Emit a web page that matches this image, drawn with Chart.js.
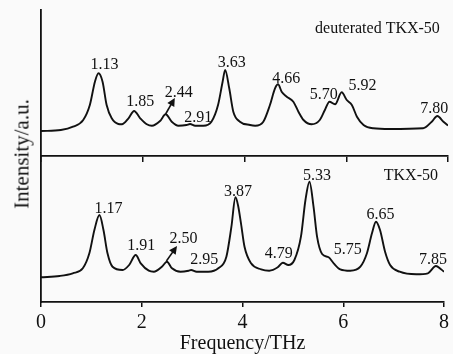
<!DOCTYPE html>
<html>
<head>
<meta charset="utf-8">
<script src="https://cdn.jsdelivr.net/npm/chart.js@4.4.0/dist/chart.umd.min.js"></script>
<style>
html, body { margin: 0; padding: 0; background: #fafafa; }
#wrap { position: relative; width: 453px; height: 354px; overflow: hidden; }
#cTop { position: absolute; left: 0; top: 0; }
#cBottom { position: absolute; left: 0; top: 150px; }
#ylab {
  position: absolute; left: 22px; top: 154px;
  transform: translate(-50%, -50%) rotate(-90deg);
  font: 21px "Liberation Serif", serif; color: #111; white-space: nowrap;
}
</style>
</head>
<body>
<div id="wrap">
  <canvas id="cTop" width="453" height="170"></canvas>
  <canvas id="cBottom" width="453" height="204"></canvas>
  <div id="ylab">Intensity/a.u.</div>
</div>
<script>
// spectrum of deuterated TKX-50 (frequency in THz, intensity a.u.)
const freqDeut = [0, 0.39, 0.63, 0.83, 0.96, 1.06, 1.13, 1.21, 1.29, 1.39, 1.52, 1.59, 1.72, 1.83, 1.95, 2.08, 2.18, 2.34, 2.45, 2.57, 2.70, 2.86, 2.93, 3.03, 3.19, 3.35, 3.48, 3.57, 3.62, 3.70, 3.78, 3.91, 4.11,
  4.21, 4.37, 4.50, 4.60, 4.66, 4.73, 4.83, 4.96, 5.06, 5.16, 5.32, 5.48, 5.58, 5.67, 5.78, 5.91, 6.01, 6.11, 6.21, 6.34, 6.53, 6.86, 7.51, 7.68, 7.79, 7.91, 8.0]
const intDeut = [25, 26, 29.3, 36, 51, 74.3, 82.7, 74.3, 51, 37.7, 32, 31.7, 37.7, 45, 37.7, 31.7, 30.3, 35, 41.7, 34.3, 30.3, 31, 32, 30.3, 30.3, 34.3, 51, 74.3, 86, 67.7, 44.3, 34.3, 31,
  30.3, 34.3, 51, 67.7, 71.7, 64.3, 59.3, 54.3, 44.3, 36, 31.7, 36, 46, 54.3, 51.7, 63.7, 56, 51, 39.3, 31, 27.7, 27, 27.7, 34.3, 40, 34.3, 30.5]

// spectrum of TKX-50
const freqTkx = [0, 0.37, 0.63, 0.83, 0.96, 1.06, 1.16, 1.24, 1.32, 1.42, 1.62, 1.75, 1.88, 1.98, 2.14, 2.24, 2.40, 2.50, 2.60, 2.77, 2.93, 2.98, 3.09, 3.32, 3.52, 3.68, 3.78, 3.86,
  3.91, 3.97, 4.04, 4.17, 4.37, 4.53, 4.70, 4.80, 4.91, 5.03, 5.16, 5.25, 5.33, 5.41, 5.48, 5.58, 5.71, 5.81, 5.94, 6.14, 6.34, 6.47, 6.57, 6.65, 6.73, 6.83, 6.93, 7.12, 7.45, 7.68, 7.84, 7.94, 8.0]
const intTkx = [24.7, 26, 28.7, 33.7, 48.7, 72, 87, 72, 48.7, 35.3, 32, 37, 47, 38.7, 31.3, 30.3, 35.3, 40.3, 33.7, 30.3, 31.3, 32, 30.3, 30.3, 33.7, 45.3, 75.3, 104.7,
  97, 78.7, 55.3, 38.7, 32.7, 31.3, 34.7, 39.3, 37, 42, 65.3, 102, 120.3, 95.3, 65.3, 48, 44.7, 38.7, 32.7, 31.3, 35.3, 48.7, 68.7, 80.3, 72, 50.3, 37, 30.3, 27.7, 28.7, 36, 32.7, 30.3]

const xTicks = [0, 2, 4, 6, 8]

// peak labels and where they sit (data coordinates)
const peaksDeut = ['1.13', '1.85', '2.44', '2.91', '3.63', '4.66', '5.70', '5.92', '7.80']
const posDeut = [[1.25, 87], [1.95, 50], [2.71, 59], [3.09, 34.5], [3.75, 89.5], [4.82, 73.5], [5.56, 57], [6.32, 66], [7.73, 43]]
const peaksTkx = ['1.17', '1.91', '2.50', '2.95', '3.87', '4.79', '5.33', '5.75', '6.65', '7.85']
const posTkx = [[1.34, 89.3], [1.99, 52], [2.83, 59.3], [3.24, 38], [3.91, 106], [4.72, 44], [5.48, 122], [6.09, 48], [6.74, 83], [7.78, 38]]

const SERIF = '"Liberation Serif", "Times New Roman", serif'

const peakLabels = {
  id: 'peakLabels',
  afterDatasetsDraw(chart, args, opts) {
    const ctx = chart.ctx
    const x = chart.scales.x, y = chart.scales.y
    ctx.save()
    ctx.fillStyle = '#111'
    ctx.font = '16px ' + SERIF
    ctx.textAlign = 'center'
    ctx.textBaseline = 'alphabetic'
    opts.labels.forEach((t, i) => {
      ctx.fillText(t, x.getPixelForValue(opts.pos[i][0]), y.getPixelForValue(opts.pos[i][1]))
    })
    ctx.textAlign = 'right'
    ctx.fillText(opts.name, x.getPixelForValue(opts.namePos[0]), y.getPixelForValue(opts.namePos[1]))
    // arrow
    const x0 = x.getPixelForValue(opts.arrow[0]), y0 = y.getPixelForValue(opts.arrow[1])
    const x1 = x.getPixelForValue(opts.arrow[2]), y1 = y.getPixelForValue(opts.arrow[3])
    const a = Math.atan2(y1 - y0, x1 - x0)
    ctx.strokeStyle = '#111'
    ctx.lineWidth = 1.6
    ctx.beginPath()
    ctx.moveTo(x0, y0)
    ctx.lineTo(x1 - 6 * Math.cos(a), y1 - 6 * Math.sin(a))
    ctx.stroke()
    ctx.beginPath()
    ctx.moveTo(x1, y1)
    ctx.lineTo(x1 - 8 * Math.cos(a) + 4 * Math.sin(a), y1 - 8 * Math.sin(a) - 4 * Math.cos(a))
    ctx.lineTo(x1 - 8 * Math.cos(a) - 4 * Math.sin(a), y1 - 8 * Math.sin(a) + 4 * Math.cos(a))
    ctx.closePath()
    ctx.fill()
    ctx.restore()
  }
}

const makeChart = (id, freqs, ints, labelOpts, bottom) => {
  const xScale = {
    type: 'linear', min: 0, max: 8,
    afterBuildTicks: s => { s.ticks = xTicks.map(v => ({ value: v })) },
    border: { display: true, color: '#111', width: 1.8 },
    grid: { display: true, drawOnChartArea: false, drawTicks: true, tickLength: bottom ? 5 : 6, color: '#111', lineWidth: 1.5 },
    ticks: { display: bottom, maxRotation: 0, padding: 4, color: '#111', font: { family: SERIF, size: 20 } },
    title: { display: bottom, text: 'Frequency/THz', color: '#111', padding: 0, font: { family: SERIF, size: 20, lineHeight: 1 } }
  }
  if (bottom) xScale.afterFit = s => { s.height = 52 }
  return new Chart(document.getElementById(id), {
    type: 'line',
    data: {
      datasets: [{
        data: freqs.map((f, i) => ({ x: f, y: ints[i] })),
        borderColor: '#111',
        borderWidth: 1.9,
        pointRadius: 0,
        cubicInterpolationMode: 'monotone',
        fill: false
      }]
    },
    options: {
      responsive: false,
      animation: false,
      events: [],
      layout: { padding: bottom ? { left: 41, right: 5, top: 6, bottom: 0 } : { left: 41, right: 5, top: 10, bottom: 8 } },
      plugins: { legend: { display: false }, tooltip: { enabled: false }, peakLabels: labelOpts },
      scales: {
        x: xScale,
        y: {
          min: 0, max: 146,
          border: { display: true, color: '#111', width: 1.8 },
          grid: { display: false, drawTicks: false },
          ticks: { display: false }
        }
      }
    },
    plugins: [peakLabels]
  })
}

makeChart('cTop', freqDeut, intDeut, {
  labels: peaksDeut, pos: posDeut, name: 'deuterated TKX-50', namePos: [7.84, 123], arrow: [2.45, 42, 2.63, 58]
}, false)

makeChart('cBottom', freqTkx, intTkx, {
  labels: peaksTkx, pos: posTkx, name: 'TKX-50', namePos: [7.88, 122], arrow: [2.49, 41, 2.70, 56]
}, true)
</script>
</body>
</html>
